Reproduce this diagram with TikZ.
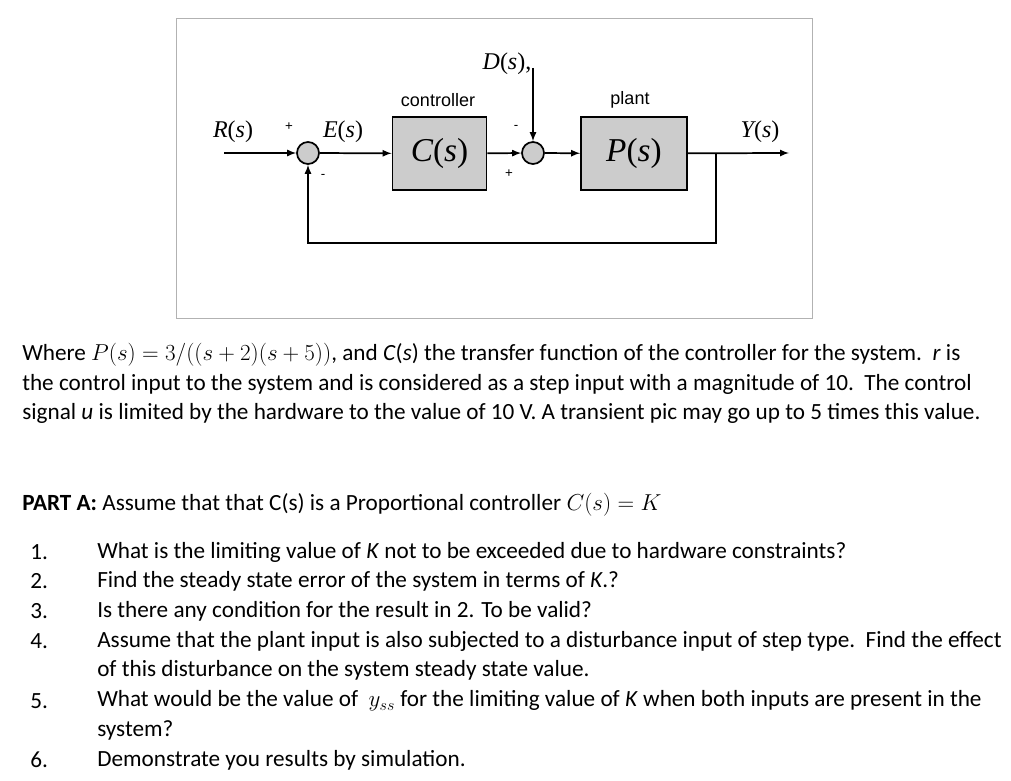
\documentclass[tikz,border=0pt]{standalone}
\usepackage{fontspec}
\setmainfont{Carlito}
\newfontfamily\arialf{Liberation Sans}
\newfontfamily\timesf{Liberation Serif}
\begin{document}
\begin{tikzpicture}[x=0.75pt,y=-0.75pt,
  blk/.style={draw,line width=1.3pt,fill=gray!40,minimum width=94*0.75pt,minimum height=73*0.75pt,inner sep=0pt},
  sumc/.style={draw,line width=1.3pt,fill=gray!40,circle,minimum size=22*0.75pt,inner sep=0pt},
  lab/.style={font=\timesf\itshape\fontsize{18}{20}\selectfont},
  sml/.style={font=\arialf\fontsize{13.5}{15}\selectfont},
  sg/.style={font=\arialf\fontsize{10}{11}\selectfont},
  txt/.style={anchor=west,font=\fontsize{17.4}{20}\selectfont,inner sep=0pt},
  ar/.style={line width=1.3pt,-latex}]
\useasboundingbox (0,0) rectangle (1011,781);
\draw[gray!60] (176,18) rectangle (812,318);
\node[sumc] (s1) at (308,153) {};
\node[sumc] (s2) at (533,153) {};
\node[blk] (C) at (439.5,153.5) {\timesf\fontsize{25}{28}\selectfont\itshape C\upshape(\itshape s\upshape)};
\node[blk,minimum width=106*0.75pt] (P) at (634,153.5) {\timesf\fontsize{25}{28}\selectfont\itshape P\upshape(\itshape s\upshape)};
\coordinate (rin) at (224,153);
\coordinate (yout) at (789,153);
\coordinate (br) at (716,153);
\coordinate (bl) at (716,243);
\coordinate (fb) at (308,243);
\coordinate (dtop) at (533,68);
\draw[ar] (rin) -- (s1);
\draw[ar] (s1) -- (C);
\draw[ar] (C) -- (s2);
\draw[ar] (s2) -- (P);
\draw[ar] (P) -- (yout);
\draw[ar] (dtop) -- (s2);
\draw[ar] (br) -- (bl) -- (fb) -- (s1);
\node[lab] (r) at (233,132) {\itshape R\upshape(\itshape s\upshape)};
\node[lab] (e) at (343,132) {\itshape E\upshape(\itshape s\upshape)};
\node[lab] (d) at (507,64) {\itshape D\upshape(\itshape s\upshape),};
\node[lab] (y) at (760,132) {\itshape Y\upshape(\itshape s\upshape)};
\node[sml] (cl) at (438,100) {controller};
\node[sml] (pl) at (630,100) {plant};
\node[sg] (p1) at (289,127) {+};
\node[sg] (m1) at (323,176) {-};
\node[sg] (m2) at (516,127) {-};
\node[sg] (p2) at (509,174) {+};
\node[txt] (t1) at (22,355) {Where $P(s)=3/((s+2)(s+5))$, and \textit{C}(\textit{s}) the transfer function of the controller for the system.\ \ \textit{r} is};
\node[txt] (t2) at (22,384) {the control input to the system and is considered as a step input with a magnitude of 10.\ \ The control};
\node[txt] (t3) at (22,413) {signal \textit{u} is limited by the hardware to the value of 10 V. A transient pic may go up to 5 times this value.};
\node[txt] (t4) at (22,505) {\textbf{PART A:} Assume that that C(s) is a Proportional controller $C(s)=K$};
\node[txt] (n1) at (30,552) {1.};
\node[txt] (q1) at (97,552) {What is the limiting value of \textit{K} not to be exceeded due to hardware constraints?};
\node[txt] (n2) at (30,581) {2.};
\node[txt] (q2) at (97,581) {Find the steady state error of the system in terms of \textit{K}.?};
\node[txt] (n3) at (30,611) {3.};
\node[txt] (q3) at (97,611) {Is there any condition for the result in 2. To be valid?};
\node[txt] (n4) at (30,641) {4.};
\node[txt] (q4) at (97,641) {Assume that the plant input is also subjected to a disturbance input of step type.\ \ Find the effect};
\node[txt] (q4b) at (97,670) {of this disturbance on the system steady state value.};
\node[txt] (n5) at (30,701) {5.};
\node[txt] (q5) at (97,701) {What would be the value of \ $y_{ss}$ for the limiting value of \textit{K} when both inputs are present in the};
\node[txt] (q5b) at (97,730) {system?};
\node[txt] (n6) at (30,760) {6.};
\node[txt] (q6) at (97,760) {Demonstrate you results by simulation.};
\end{tikzpicture}
\end{document}
